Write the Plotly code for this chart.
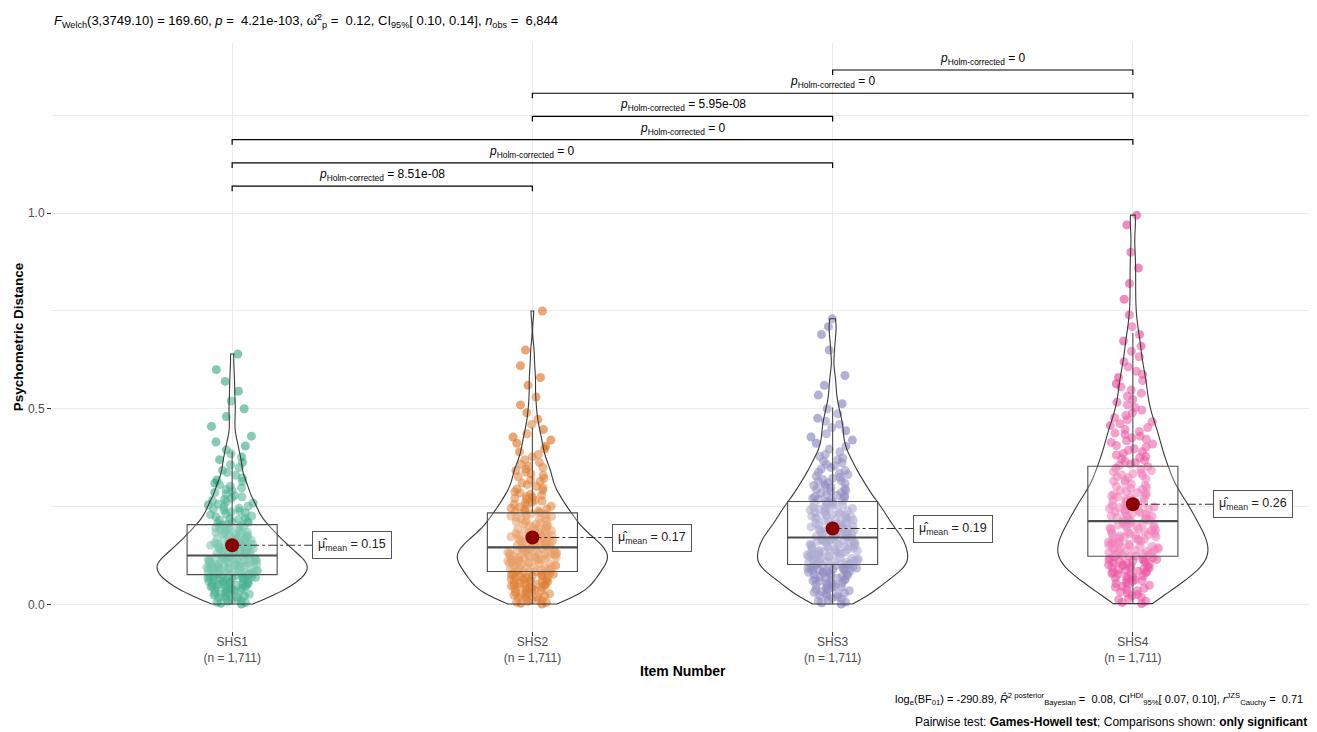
import plotly.graph_objects as go

# ---------------- data ----------------
categories = ["SHS1", "SHS2", "SHS3", "SHS4"]
n_obs = ["1,711", "1,711", "1,711", "1,711"]
colors = ["#1B9E77", "#D95F02", "#7570B3", "#E7298A"]

# psychometric distances, in thousandths (read from the point clouds)
shs1_x1000 = [1, 3, 5, 6, 8, 10, 12, 14, 15, 17, 19,
              21, 22, 24, 25, 26, 28, 29, 31, 32, 34, 35, 36, 38, 39,
              41, 42, 43, 44, 45, 46, 47, 48, 49, 50, 51, 52, 53, 54, 55, 56, 57, 58, 59,
              60, 61, 62, 63, 64, 65, 66, 67, 68, 69, 70, 70, 71, 72, 73, 74, 75, 76, 77, 78, 79, 79,
              80, 81, 82, 83, 83, 85, 85, 86, 87, 88, 89, 90, 90, 91, 92, 93, 94, 95, 95, 96, 97, 98, 99, 99,
              100, 101, 102, 103, 103, 105, 105, 106, 107, 108, 109, 110, 110, 111, 112, 113, 114, 115, 115, 116, 117, 118, 119, 119,
              121, 122, 123, 124, 125, 126, 127, 128, 129, 130, 131, 132, 133, 134, 135, 136, 137, 138, 139,
              141, 142, 143, 144, 145, 146, 147, 148, 149, 151, 152, 153, 154, 155, 156, 157, 158, 159,
              161, 162, 164, 165, 166, 168, 169, 171, 172, 174, 175, 176, 178, 179,
              181, 182, 184, 185, 187, 188, 190, 192, 193, 195, 196, 198, 199,
              201, 203, 205, 207, 209, 211, 213, 215, 217, 219,
              221, 224, 226, 229, 231, 234, 236, 239,
              241, 244, 246, 249, 251, 254, 256, 259,
              262, 265, 268, 272, 275, 278,
              282, 286, 290, 294, 298,
              302, 306, 310, 314, 318,
              323, 330, 337, 343, 350, 357, 363, 370, 377, 385, 395, 405, 415,
              430, 455, 480, 500, 520, 545, 570, 600, 640]

shs2_x1000 = [1, 3, 5, 6, 8, 10, 12, 14, 15, 17, 19,
              21, 22, 24, 25, 27, 28, 30, 32, 33, 35, 36, 38, 39,
              41, 42, 43, 44, 46, 47, 48, 49, 51, 52, 53, 54, 56, 57, 58, 59,
              61, 62, 63, 64, 66, 67, 68, 69, 71, 72, 73, 74, 76, 77, 78, 79,
              81, 82, 83, 84, 85, 86, 87, 88, 89, 91, 92, 93, 94, 95, 96, 97, 98, 99,
              101, 102, 103, 104, 105, 106, 107, 108, 109, 110, 111, 112, 113, 114, 115, 116, 117, 118, 119,
              120, 121, 122, 123, 124, 125, 126, 127, 128, 129, 130, 130, 131, 132, 133, 134, 135, 136, 137, 138, 139,
              141, 142, 143, 144, 145, 146, 147, 148, 149, 151, 152, 153, 154, 155, 156, 157, 158, 159,
              161, 162, 163, 164, 166, 167, 168, 169, 171, 172, 173, 174, 176, 177, 178, 179,
              181, 182, 184, 185, 187, 188, 190, 192, 193, 195, 196, 198, 199,
              201, 203, 205, 206, 208, 210, 212, 214, 215, 217, 219,
              221, 223, 225, 226, 228, 230, 232, 234, 235, 237, 239,
              241, 244, 246, 249, 251, 254, 256, 259,
              261, 264, 266, 269, 271, 274, 276, 279,
              282, 285, 288, 292, 295, 298,
              302, 306, 310, 314, 318,
              322, 326, 330, 334, 338,
              342, 346, 350, 354, 358,
              363, 370, 377, 383, 390, 397,
              404, 412, 420, 428, 436, 447, 460, 473, 490, 510,
              530, 560, 580, 610, 650, 750]

shs3_x1000 = [1, 4, 6, 9, 11, 14, 16, 19,
              21, 23, 25, 27, 29, 31, 33, 35, 37, 39,
              41, 43, 45, 46, 48, 50, 52, 54, 55, 57, 59,
              61, 62, 64, 65, 67, 68, 70, 72, 73, 75, 76, 78, 79,
              81, 82, 83, 84, 85, 86, 87, 88, 89, 91, 92, 93, 94, 95, 96, 97, 98, 99,
              101, 102, 103, 104, 105, 106, 107, 108, 109, 111, 112, 113, 114, 115, 116, 117, 118, 119,
              121, 122, 123, 124, 125, 126, 127, 128, 129, 131, 132, 133, 134, 135, 136, 137, 138, 139,
              141, 142, 143, 144, 146, 147, 148, 149, 151, 152, 153, 154, 156, 157, 158, 159,
              161, 162, 163, 164, 165, 166, 167, 168, 169, 171, 172, 173, 174, 175, 176, 177, 178, 179,
              181, 182, 184, 185, 186, 188, 189, 191, 192, 194, 195, 196, 198, 199,
              201, 202, 204, 205, 207, 208, 210, 212, 213, 215, 216, 218, 219,
              221, 222, 224, 225, 227, 228, 230, 232, 233, 235, 236, 238, 239,
              241, 243, 245, 246, 248, 250, 252, 254, 255, 257, 259,
              261, 263, 265, 267, 269, 271, 273, 275, 277, 279,
              281, 284, 286, 289, 291, 294, 296, 299,
              301, 304, 306, 309, 311, 314, 316, 319,
              322, 325, 328, 332, 335, 338,
              342, 346, 350, 354, 358,
              362, 366, 370, 374, 378,
              383, 390, 397,
              404, 412, 420, 428, 436,
              444, 452, 460, 468, 476,
              487, 500, 513, 535, 560, 585,
              650, 690, 710, 730]

shs4_x1000 = [2, 5, 8, 12, 15, 18,
              22, 25, 28, 32, 35, 38,
              41, 44, 46, 49, 51, 54, 56, 59,
              61, 63, 65, 67, 69, 71, 73, 75, 77, 79,
              81, 82, 84, 85, 87, 88, 90, 92, 93, 95, 96, 98, 99,
              101, 102, 104, 105, 106, 108, 109, 111, 112, 114, 115, 116, 118, 119,
              121, 122, 124, 125, 126, 128, 129, 131, 132, 134, 135, 136, 138, 139,
              141, 142, 144, 145, 146, 148, 149, 151, 152, 154, 155, 156, 158, 159,
              161, 162, 164, 165, 167, 168, 170, 172, 173, 175, 176, 178, 179,
              181, 182, 184, 185, 187, 188, 190, 192, 193, 195, 196, 198, 199,
              201, 203, 205, 206, 208, 210, 212, 214, 215, 217, 219,
              221, 223, 225, 226, 228, 230, 232, 234, 235, 237, 239,
              241, 243, 245, 247, 249, 251, 253, 255, 257, 259,
              261, 263, 265, 267, 269, 271, 273, 275, 277, 279,
              281, 284, 286, 289, 291, 294, 296, 299,
              302, 305, 308, 312, 315, 318,
              321, 324, 326, 329, 331, 334, 336, 339,
              342, 345, 348, 352, 355, 358,
              362, 365, 368, 372, 375, 378,
              382, 386, 390, 394, 398,
              402, 406, 410, 414, 418, 422, 426, 430, 434, 438,
              442, 447, 452, 457, 462, 467, 472, 477,
              483, 490, 497, 503, 510, 517,
              524, 532, 540, 548, 556,
              564, 572, 580, 588, 596,
              607, 620, 633, 647, 660, 673, 690, 710,
              740, 780, 820, 860, 900, 970, 995]

group_values = [[v / 1000 for v in g] for g in (shs1_x1000, shs2_x1000, shs3_x1000, shs4_x1000)]

# box statistics and means
q1 = [0.076, 0.084, 0.102, 0.123]
medians = [0.125, 0.146, 0.171, 0.213]
q3 = [0.204, 0.234, 0.263, 0.353]
lower_whisker = [0.0, 0.0, 0.0, 0.003]
upper_whisker = [0.390, 0.452, 0.503, 0.694]
means = [0.151, 0.171, 0.194, 0.256]
mean_labels = ["0.15", "0.17", "0.19", "0.26"]
bandwidths = [0.019, 0.023, 0.025, 0.034]

# pairwise comparisons (Games-Howell, Holm-corrected)
pairs = [(0, 1), (0, 2), (0, 3), (1, 2), (1, 3), (2, 3)]
pair_p = ["8.51e-08", "0", "0", "5.95e-08", "0", "0"]

ytick_vals = [0.0, 0.5, 1.0]
ytick_text = ["0.0", "0.5", "1.0"]

# ---------------- styling constants ----------------
FONT = "Liberation Sans, Arial, Helvetica, sans-serif"
LINE_DARK = "#333333"
# points are jittered in separate vertical bands so that sparse tails are spread as wide as the core
JITTER_BANDS = [(-1.0, 0.22), (0.22, 0.40), (0.40, 2.0)]
positions = [i + 1 for i in range(len(categories))]

fig = go.Figure()

# jittered points (drawn first)
for i, vals in enumerate(group_values):
    for lo, hi in JITTER_BANDS:
        band = [v for v in vals if lo < v <= hi]
        if not band:
            continue
        fig.add_trace(go.Violin(
            x=[positions[i]] * len(band), y=band,
            points="all", jitter=1, pointpos=0, width=0.17,
            line=dict(width=0, color="rgba(0,0,0,0)"),
            fillcolor="rgba(0,0,0,0)",
            marker=dict(color=colors[i], size=9, opacity=0.55, line=dict(width=0)),
            spanmode="hard", hoverinfo="skip", showlegend=False,
        ))

# violin outlines
for i, vals in enumerate(group_values):
    fig.add_trace(go.Violin(
        x=[positions[i]] * len(vals), y=vals,
        points=False, width=0.5, scalegroup="all", scalemode="width",
        spanmode="hard", bandwidth=bandwidths[i],
        line=dict(color="#3a3a3a", width=1.1),
        fillcolor="rgba(255,255,255,0.2)",
        box_visible=False, meanline_visible=False,
        hoverinfo="skip", showlegend=False,
    ))

# boxplots from summary statistics
for i in range(len(categories)):
    fig.add_trace(go.Box(
        x=[positions[i]], q1=[q1[i]], median=[medians[i]], q3=[q3[i]],
        lowerfence=[lower_whisker[i]], upperfence=[upper_whisker[i]],
        width=0.3, whiskerwidth=0,
        fillcolor="rgba(255,255,255,0.25)",
        line=dict(color="#4d4d4d", width=1.1),
        boxpoints=False, hoverinfo="skip", showlegend=False,
    ))
    fig.add_trace(go.Scatter(
        x=[positions[i] - 0.15, positions[i] + 0.15], y=[medians[i], medians[i]],
        mode="lines", line=dict(color="#4d4d4d", width=2.2),
        hoverinfo="skip", showlegend=False,
    ))

# mean connectors, mean points and labels
LABEL_OFFSET = 0.4
for i in range(len(categories)):
    fig.add_trace(go.Scatter(
        x=[positions[i], positions[i] + LABEL_OFFSET], y=[means[i], means[i]],
        mode="lines", line=dict(color=LINE_DARK, width=1.1, dash="dashdot"),
        hoverinfo="skip", showlegend=False,
    ))
fig.add_trace(go.Scatter(
    x=positions, y=means, mode="markers",
    marker=dict(color="#8B0000", size=14, line=dict(width=0)),
    hoverinfo="skip", showlegend=False,
))
for i in range(len(categories)):
    fig.add_annotation(
        x=positions[i] + LABEL_OFFSET, y=means[i], xref="x", yref="y",
        text="μ̂<sub>mean</sub> = " + mean_labels[i],
        showarrow=False, font=dict(family=FONT, size=12.5, color="#222222"),
        bgcolor="white", bordercolor="#555555", borderwidth=1, borderpad=5,
    )

# significance brackets
BASE = 1.069
STEP = 0.0594
TICK = 0.013
for k, (a, b) in enumerate(pairs):
    yl = BASE + STEP * k
    xa, xb = positions[a], positions[b]
    fig.add_trace(go.Scatter(
        x=[xa, xa, xb, xb], y=[yl - TICK, yl, yl, yl - TICK],
        mode="lines", line=dict(color="black", width=1.2),
        hoverinfo="skip", showlegend=False,
    ))
    fig.add_annotation(
        x=(xa + xb) / 2, y=yl, xref="x", yref="y", yanchor="bottom",
        text="<i>p</i><sub>Holm-corrected</sub> = " + pair_p[k],
        showarrow=False, font=dict(family=FONT, size=12, color="black"),
        yshift=1,
    )

# subtitle (top-left)
fig.add_annotation(
    xref="paper", yref="paper", x=0, y=1.037, xanchor="left", yanchor="middle",
    text=("<i>F</i><sub>Welch</sub>(3,3749.10) = 169.60, <i>p</i> =  4.21e-103, "
          "ω̂<sup>2</sup><sub>p</sub> =  0.12, CI<sub>95%</sub>[ 0.10, 0.14], "
          "<i>n</i><sub>obs</sub> =  6,844"),
    showarrow=False, font=dict(family=FONT, size=13, color="black"),
)

# x-axis title
fig.add_annotation(
    xref="paper", yref="paper", x=0.5, y=-0.068, xanchor="center", yanchor="middle",
    text="<b>Item Number</b>", showarrow=False,
    font=dict(family=FONT, size=14, color="black"),
)

# caption (bottom-right)
fig.add_annotation(
    xref="paper", yref="paper", x=1, y=-0.1156, xanchor="right", yanchor="middle",
    text=("log<sub>e</sub>(BF<sub>01</sub>) = -290.89, "
          "<i>R̂</i><sup>2 posterior</sup><sub>Bayesian</sub> =  0.08, "
          "CI<sup>HDI</sup><sub>95%</sub>[ 0.07, 0.10], "
          "<i>r</i><sup>JZS</sup><sub>Cauchy</sub> =  0.71"),
    showarrow=False, font=dict(family=FONT, size=11, color="black"), xshift=-8,
)
fig.add_annotation(
    xref="paper", yref="paper", x=1, y=-0.1548, xanchor="right", yanchor="middle",
    text="Pairwise test: <b>Games-Howell test</b>; Comparisons shown: <b>only significant</b>",
    showarrow=False, font=dict(family=FONT, size=12, color="black"), xshift=-4,
)

fig.update_xaxes(
    range=[0.4, 4.6], tickmode="array", tickvals=positions,
    ticktext=[f"{c}<br>(n = {n})" for c, n in zip(categories, n_obs)],
    showgrid=True, gridcolor="#EBEBEB", gridwidth=1, zeroline=False,
    ticks="outside", ticklen=4, tickcolor=LINE_DARK, tickwidth=1,
    tickfont=dict(family=FONT, size=12, color="#4D4D4D"),
    ticklabelstandoff=-4,
    showline=False, automargin=False,
)
fig.update_yaxes(
    range=[-0.068, 1.435], tickmode="array", tickvals=ytick_vals, ticktext=ytick_text,
    showgrid=True, gridcolor="#EBEBEB", gridwidth=1, zeroline=False,
    minor=dict(tickmode="array", tickvals=[0.25, 0.75, 1.25], showgrid=True,
               gridcolor="#EBEBEB", gridwidth=1, ticks=""),
    ticks="outside", ticklen=4, tickcolor=LINE_DARK, tickwidth=1,
    tickfont=dict(family=FONT, size=12, color="#4D4D4D"),
    title=dict(text="<b>Psychometric Distance</b>", font=dict(family=FONT, size=13.5, color="black"), standoff=1),
    showline=False, automargin=False,
)

# the page adds an 8 px body margin, so the figure is sized and offset for it
fig.update_layout(
    width=1307, height=722,
    margin=dict(l=44, r=2, t=35, b=99),
    plot_bgcolor="white", paper_bgcolor="white",
    violinmode="overlay", boxmode="overlay",
    showlegend=False,
    font=dict(family=FONT, color="black"),
)

fig.write_html("out.html")
